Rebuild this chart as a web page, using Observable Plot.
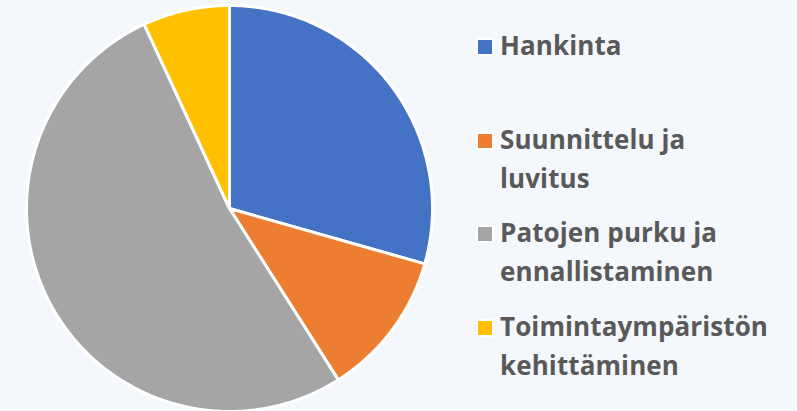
<!DOCTYPE html>
<html>
<head>
<meta charset="utf-8">
<script src="https://cdn.jsdelivr.net/npm/d3@7"></script>
<script src="https://cdn.jsdelivr.net/npm/@observablehq/plot@0.6"></script>
<style>
  html, body { margin: 0; padding: 0; background: #F4F7FC; }
  #wrap { position: relative; width: 797px; height: 411px; overflow: hidden; background: #F4F7FC; }
  #legend { position: absolute; left: 476px; top: 26px; font-family: "Open Sans", sans-serif; font-weight: 700; font-size: 26px; color: #595959; }
  .item { display: flex; align-items: flex-start; height: 93.5px; }
  .sw { width: 14px; height: 14px; border: 2px solid #fff; margin-top: 12px; margin-right: 6px; flex: none; }
  .lbl { line-height: 39px; letter-spacing: 0.1px; }
</style>
</head>
<body>
<div id="wrap"></div>
<script>
const categories = ["Hankinta", "Suunnittelu ja luvitus", "Patojen purku ja ennallistaminen", "Toimintaympäristön kehittäminen"];
const legendLines = [["Hankinta"], ["Suunnittelu ja", "luvitus"], ["Patojen purku ja", "ennallistaminen"], ["Toimintaympäristön", "kehittäminen"]];
const values = [29.4, 11.6, 52.1, 6.9];
const colors = ["#4472C4", "#ED7D31", "#A5A5A5", "#FFC000"];

const data = categories.map((c, i) => ({category: c, value: values[i]}));
const arcs = d3.pie().sort(null).value(d => d.value)(data);

// build slice outlines in unit coordinates (angle measured clockwise from top)
const pts = [];
for (const a of arcs) {
  const c = a.data.category;
  pts.push({category: c, x: 0, y: 0});
  const n = Math.max(2, Math.ceil((a.endAngle - a.startAngle) / 0.01));
  for (let k = 0; k <= n; k++) {
    const t = a.startAngle + (a.endAngle - a.startAngle) * k / n;
    pts.push({category: c, x: Math.sin(t), y: Math.cos(t)});
  }
  pts.push({category: c, x: 0, y: 0});
}

const chart = Plot.plot({
  width: 797,
  height: 411,
  margin: 0,
  style: {background: "#F4F7FC"},
  x: {domain: [-1, 1], range: [26, 432], axis: null},
  y: {domain: [-1, 1], range: [411, 5], axis: null},
  color: {domain: categories, range: colors},
  marks: [
    Plot.line(pts, {x: "x", y: "y", z: "category", fill: "category", stroke: "white", strokeWidth: 3, strokeLinejoin: "round", curve: "linear"})
  ]
});
const wrap = document.getElementById("wrap");
wrap.appendChild(chart);

const legend = document.createElement("div");
legend.id = "legend";
categories.forEach((c, i) => {
  const item = document.createElement("div");
  item.className = "item";
  const sw = document.createElement("div");
  sw.className = "sw";
  sw.style.background = colors[i];
  const lbl = document.createElement("div");
  lbl.className = "lbl";
  lbl.innerHTML = legendLines[i].join("<br>");
  item.appendChild(sw);
  item.appendChild(lbl);
  legend.appendChild(item);
});
wrap.appendChild(legend);
</script>
</body>
</html>
